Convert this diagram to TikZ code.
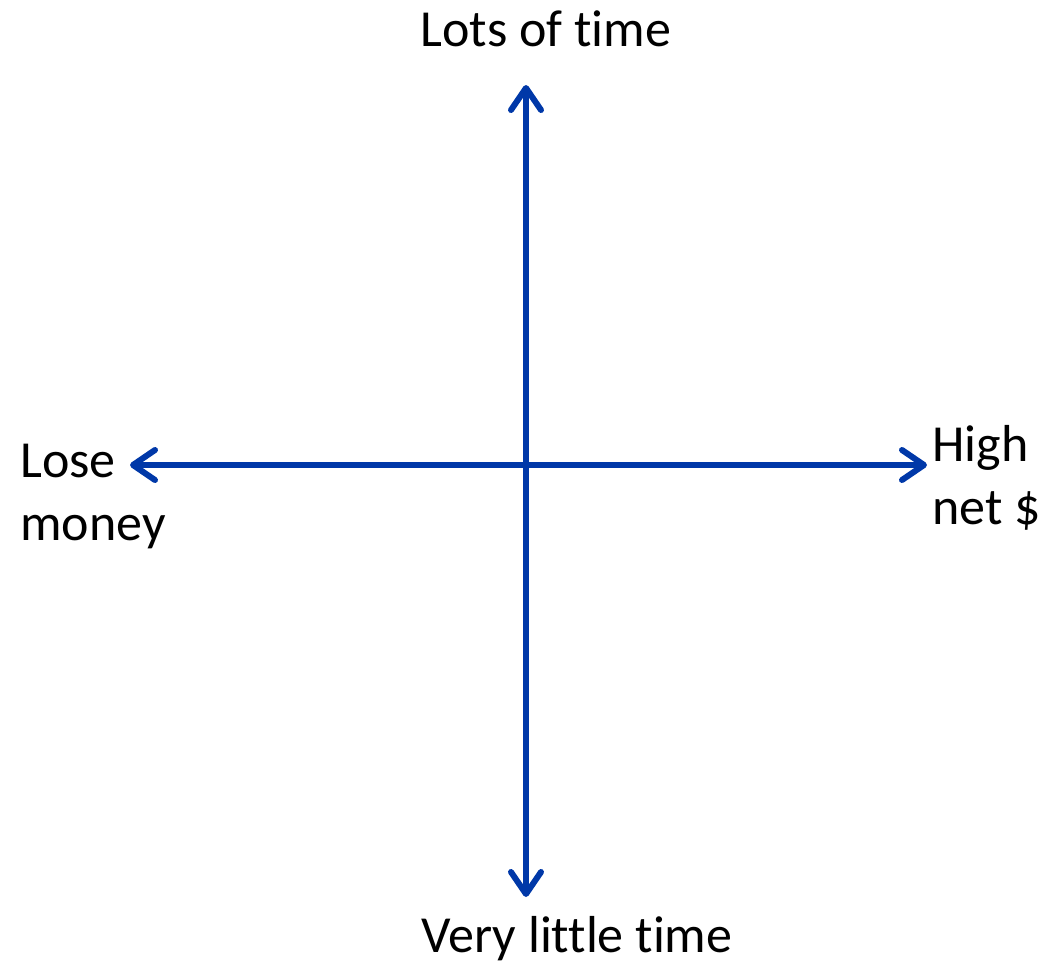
\documentclass[tikz,border=0pt]{standalone}
\usepackage{fontspec}
\setmainfont{Carlito}[Ligatures=NoCommon]
\usetikzlibrary{arrows.meta}
\definecolor{AxisBlue}{HTML}{0038A8}
\tikzset{
  axis/.style={{Straight Barb[round,length=11pt,width=15pt]}-{Straight Barb[round,length=11pt,width=15pt]},
               line width=3pt, draw=AxisBlue, line cap=round},
  lbl/.style={inner sep=0pt, font=\fontsize{26}{31.5}\selectfont, text=black},
}
\begin{document}
\begin{tikzpicture}[x=0.5pt,y=-0.5pt]
\useasboundingbox (0,0) rectangle (1051,965);

% axis end points
\coordinate (top) at (526,85);
\coordinate (bot) at (526,897);
\coordinate (lft) at (130,465);
\coordinate (rgt) at (927,465);

% labels
\node[lbl, anchor=base] (time+) at (546,46) {Lots of time};
\node[lbl, anchor=base] (time-) at (577,952) {Very little time};
\node[lbl, anchor=base west, align=left] (money-) at (20,540) {Lose\\money};
\node[lbl, anchor=base west, align=left] (money+) at (932,524) {High\\net \$};

% axes
\draw[axis] (lft) -- (rgt);
\draw[axis] (bot) -- (top);
\end{tikzpicture}
\end{document}
